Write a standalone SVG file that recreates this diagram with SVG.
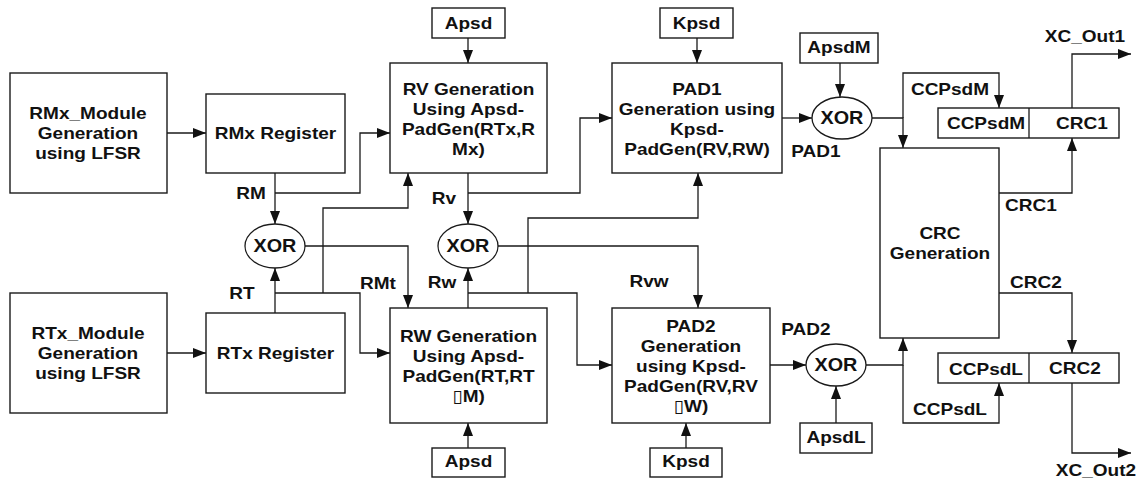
<svg xmlns="http://www.w3.org/2000/svg" width="1138" height="481" viewBox="0 0 1138 481">
<style>
  .box { fill: #ffffff; stroke: #1a1a1a; stroke-width: 1.4; }
  .xor { fill: #ffffff; stroke: #1a1a1a; stroke-width: 1.3; }
  .ln { fill: none; stroke: #1a1a1a; stroke-width: 1.3; }
  .ar { marker-end: url(#arrow); }
  text { font-family: "Liberation Sans", Arial, "DejaVu Sans", sans-serif; font-weight: bold; font-size: 17.3px; fill: #111111; text-anchor: middle; transform-box: fill-box; transform-origin: center; transform: scaleX(1.1); }
  .x { font-size: 18px; }
  .tofu { font-family: "DejaVu Sans", sans-serif; font-weight: bold; }
</style>
<defs>
  <marker id="arrow" markerUnits="userSpaceOnUse" markerWidth="13" markerHeight="10" refX="13" refY="5" orient="auto">
    <path d="M0,0 L13,5 L0,10 z" fill="#111111"/>
  </marker>
</defs>
<rect width="1138" height="481" fill="#ffffff"/>

<g id="connectors">
  <path class="ln ar" d="M167,133 H206"/>
  <path class="ln ar" d="M167,353 H206"/>
  <path class="ln ar" d="M275,173 V224"/>
  <path class="ln ar" d="M275,193 H360 V133 H390"/>
  <path class="ln ar" d="M275,313 V268"/>
  <path class="ln ar" d="M275,293 H360 V353 H390"/>
  <path class="ln ar" d="M323,293 V208 H408 V173"/>
  <path class="ln ar" d="M305,246 H408 V308"/>
  <path class="ln ar" d="M468,38 V63"/>
  <path class="ln ar" d="M468,173 V224"/>
  <path class="ln ar" d="M468,193 H580 V118 H612"/>
  <path class="ln ar" d="M468,308 V268"/>
  <path class="ln ar" d="M468,293 H577 V365 H612"/>
  <path class="ln ar" d="M528,293 V218 H698 V173"/>
  <path class="ln ar" d="M498,246 H698 V308"/>
  <path class="ln ar" d="M697,38 V63"/>
  <path class="ln ar" d="M468,448 V423"/>
  <path class="ln ar" d="M686,448 V423"/>
  <path class="ln ar" d="M782,118 H812"/>
  <path class="ln ar" d="M840,63 V97"/>
  <path class="ln ar" d="M872,118 H903 V148"/>
  <path class="ln ar" d="M903,118 V73 H999 V108"/>
  <path class="ln ar" d="M770,365 H806"/>
  <path class="ln ar" d="M836,423 V386"/>
  <path class="ln ar" d="M866,365 H903 V338"/>
  <path class="ln ar" d="M903,365 V423 H999 V383"/>
  <path class="ln ar" d="M999,193 H1072 V138"/>
  <path class="ln ar" d="M1072,108 V54 H1131"/>
  <path class="ln ar" d="M999,293 H1072 V353"/>
  <path class="ln ar" d="M1072,383 V453 H1131"/>
</g>

<g id="rmx-module">
  <rect class="box" x="10" y="73" width="157" height="120"/>
  <text x="88" y="119">RMx_Module</text>
  <text x="88" y="139">Generation</text>
  <text x="88" y="159">using LFSR</text>
</g>
<g id="rtx-module">
  <rect class="box" x="10" y="293" width="157" height="120"/>
  <text x="88" y="339">RTx_Module</text>
  <text x="88" y="359">Generation</text>
  <text x="88" y="379">using LFSR</text>
</g>
<g id="rmx-register">
  <rect class="box" x="206" y="94" width="139" height="79"/>
  <text x="275.5" y="139">RMx Register</text>
</g>
<g id="rtx-register">
  <rect class="box" x="206" y="313" width="139" height="80"/>
  <text x="275.5" y="359">RTx Register</text>
</g>
<g id="xor1">
  <ellipse class="xor" cx="275" cy="246" rx="30" ry="22"/>
  <text class="x" x="275" y="252.5">XOR</text>
</g>
<g id="xor2">
  <ellipse class="xor" cx="468" cy="246" rx="30" ry="22"/>
  <text class="x" x="468" y="252.5">XOR</text>
</g>
<g id="apsd-top">
  <rect class="box" x="432" y="8" width="73" height="30"/>
  <text x="468.5" y="29">Apsd</text>
</g>
<g id="kpsd-top">
  <rect class="box" x="660" y="8" width="73" height="30"/>
  <text x="696.5" y="29">Kpsd</text>
</g>
<g id="rv-generation">
  <rect class="box" x="390" y="63" width="157" height="110"/>
  <text x="468.5" y="95">RV Generation</text>
  <text x="468.5" y="115">Using Apsd-</text>
  <text x="468.5" y="135">PadGen(RTx,R</text>
  <text x="468.5" y="155">Mx)</text>
</g>
<g id="pad1-generation">
  <rect class="box" x="612" y="63" width="170" height="110"/>
  <text x="697" y="95">PAD1</text>
  <text x="697" y="115">Generation using</text>
  <text x="697" y="135">Kpsd-</text>
  <text x="697" y="155">PadGen(RV,RW)</text>
</g>
<g id="rw-generation">
  <rect class="box" x="390" y="308" width="157" height="115"/>
  <text x="468.5" y="342">RW Generation</text>
  <text x="468.5" y="362">Using Apsd-</text>
  <text x="468.5" y="382">PadGen(RT,RT</text>
  <text x="468.5" y="402"><tspan class="tofu">▯</tspan>M)</text>
</g>
<g id="pad2-generation">
  <rect class="box" x="612" y="308" width="158" height="115"/>
  <text x="691" y="332">PAD2</text>
  <text x="691" y="352">Generation</text>
  <text x="691" y="372">using Kpsd-</text>
  <text x="691" y="392">PadGen(RV,RV</text>
  <text x="691" y="412"><tspan class="tofu">▯</tspan>W)</text>
</g>
<g id="apsd-bottom">
  <rect class="box" x="432" y="448" width="73" height="29"/>
  <text x="468.5" y="467">Apsd</text>
</g>
<g id="kpsd-bottom">
  <rect class="box" x="650" y="448" width="72" height="29"/>
  <text x="686" y="467">Kpsd</text>
</g>
<g id="apsdm">
  <rect class="box" x="800" y="33" width="78" height="30"/>
  <text x="839" y="53">ApsdM</text>
</g>
<g id="xor-pad1">
  <ellipse class="xor" cx="842" cy="118" rx="30" ry="21"/>
  <text class="x" x="842" y="124">XOR</text>
</g>
<g id="xor-pad2">
  <ellipse class="xor" cx="836" cy="365" rx="30" ry="21"/>
  <text class="x" x="836" y="371.5">XOR</text>
</g>
<g id="apsdl">
  <rect class="box" x="800" y="423" width="72" height="30"/>
  <text x="836" y="443">ApsdL</text>
</g>
<g id="crc-generation">
  <rect class="box" x="880" y="148" width="119" height="190"/>
  <text x="940" y="239">CRC</text>
  <text x="940" y="259">Generation</text>
</g>
<g id="out1-register">
  <rect class="box" x="938" y="108" width="181" height="30"/>
  <line class="ln" x1="1029" y1="108" x2="1029" y2="138"/>
  <text x="986" y="129">CCPsdM</text>
  <text x="1082" y="129">CRC1</text>
</g>
<g id="out2-register">
  <rect class="box" x="938" y="353" width="181" height="30"/>
  <line class="ln" x1="1029" y1="353" x2="1029" y2="383"/>
  <text x="986" y="375">CCPsdL</text>
  <text x="1075" y="374">CRC2</text>
</g>

<g id="labels">
  <text x="251" y="199">RM</text>
  <text x="242" y="299">RT</text>
  <text x="378" y="289">RMt</text>
  <text x="444" y="204">Rv</text>
  <text x="442" y="288">Rw</text>
  <text x="649" y="287">Rvw</text>
  <text x="816" y="157">PAD1</text>
  <text x="806" y="335">PAD2</text>
  <text x="950" y="95">CCPsdM</text>
  <text x="950" y="415">CCPsdL</text>
  <text x="1031" y="211">CRC1</text>
  <text x="1036" y="288">CRC2</text>
  <text x="1085" y="42">XC_Out1</text>
  <text x="1096" y="476">XC_Out2</text>
</g>
</svg>
